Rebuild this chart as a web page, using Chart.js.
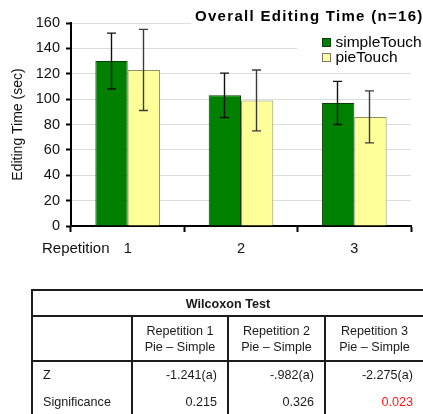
<!DOCTYPE html>
<html>
<head>
<meta charset="utf-8">
<script src="https://cdn.jsdelivr.net/npm/chart.js@4.4.1/dist/chart.umd.min.js"></script>
<style>
  html, body { margin: 0; padding: 0; background: #fff; }
  body { width: 423px; height: 414px; overflow: hidden; position: relative; font-family: 'Liberation Sans', Arial, sans-serif; }
  #chartBox { position: absolute; left: 0; top: 0; width: 423px; height: 262px; }
  #stats { position: absolute; left: 0; top: 0; width: 423px; height: 414px; pointer-events: none; }
  .ln { position: absolute; background: #1c1c1c; }
  .cell { position: absolute; font-size: 12.6px; color: #1a1a1a; line-height: 16px; white-space: nowrap; }
</style>
</head>
<body>
<div id="chartBox"><canvas id="c" width="423" height="262"></canvas></div>
<div id="stats"></div>
<script>
// Mean editing time (sec) per repetition, with standard deviations
const repetitions = ['1', '2', '3'];
const simpleTouchMean = [130, 103, 97];
const pieTouchMean = [123, 99, 86];
const simpleTouchSD = [22, 17.5, 17];
const pieTouchSD = [32, 24, 20.5];
const yTicks = [0, 20, 40, 60, 80, 100, 120, 140, 160];

// Wilcoxon signed-rank test, pieTouch vs simpleTouch
const testTitle = 'Wilcoxon Test';
const comparisonHeads = ['Repetition 1', 'Repetition 2', 'Repetition 3'];
const comparisonSub = 'Pie \u2013 Simple';
const rowLabels = ['Z', 'Significance'];
const zValues = ['-1.241(a)', '-.982(a)', '-2.275(a)'];
const sigValues = ['0.215', '0.326', '0.023'];

const FONT = "'Liberation Sans', Arial, sans-serif";

// Error whiskers (mean ± SD) drawn on top of every bar
const errorBars = {
  id: 'errorBars',
  afterDatasetsDraw(chart) {
    const ctx = chart.ctx;
    const y = chart.scales.y;
    chart.data.datasets.forEach((ds, di) => {
      const meta = chart.getDatasetMeta(di);
      meta.data.forEach((bar, i) => {
        const m = ds.data[i], sd = ds.sd[i];
        const top = y.getPixelForValue(m + sd);
        const bot = y.getPixelForValue(m - sd);
        const x = Math.round(bar.x) - 0.5;
        ctx.save();
        ctx.strokeStyle = ds.whiskerColor;
        ctx.lineWidth = 1.4;
        ctx.beginPath();
        ctx.moveTo(x, top); ctx.lineTo(x, bot);
        ctx.moveTo(x - 4.5, top); ctx.lineTo(x + 4.5, top);
        ctx.moveTo(x - 4.5, bot); ctx.lineTo(x + 4.5, bot);
        ctx.stroke();
        ctx.restore();
      });
    });
  }
};

// Title, legend box and the "Repetition" axis caption
const decorations = {
  id: 'decorations',
  afterDraw(chart) {
    const ctx = chart.ctx;
    ctx.save();
    // title with its own white backing
    ctx.font = 'bold 15px ' + FONT;
    ctx.letterSpacing = '1.3px';
    ctx.textBaseline = 'middle';
    ctx.textAlign = 'left';
    const title = 'Overall Editing Time (n=16)';
    const tw = ctx.measureText(title).width;
    ctx.fillStyle = '#fff';
    ctx.fillRect(191, 8, tw + 10, 20);
    ctx.fillStyle = '#000';
    ctx.fillText(title, 195, 17);
    ctx.letterSpacing = '0px';

    // legend
    ctx.fillStyle = '#fff';
    ctx.fillRect(297, 31, 126, 35);
    ctx.font = '15.5px ' + FONT;
    chart.data.datasets.forEach((ds, i) => {
      const yy = 38 + i * 15;
      ctx.fillStyle = ds.backgroundColor;
      ctx.fillRect(322, yy, 9, 9);
      ctx.strokeStyle = ds.legendEdge;
      ctx.lineWidth = 1;
      ctx.strokeRect(322.5, yy + 0.5, 8, 8);
      ctx.fillStyle = '#000';
      ctx.fillText(ds.label, 335.5, yy + 5);
    });

    // x axis caption
    ctx.font = '15px ' + FONT;
    ctx.fillStyle = '#111';
    ctx.fillText('Repetition', 42, 249);
    ctx.restore();
  }
};

new Chart(document.getElementById('c'), {
  type: 'bar',
  data: {
    labels: repetitions,
    datasets: [
      {
        label: 'simpleTouch',
        data: simpleTouchMean,
        sd: simpleTouchSD,
        backgroundColor: '#008000',
        borderColor: '#0a3d0a',
        legendEdge: '#0a3d0a',
        whiskerColor: '#111',
        borderWidth: 1,
        borderSkipped: 'bottom',
        categoryPercentage: 0.57,
        barPercentage: 1.0
      },
      {
        label: 'pieTouch',
        data: pieTouchMean,
        sd: pieTouchSD,
        backgroundColor: '#ffff99',
        borderColor: '#8f8f6a',
        legendEdge: '#777',
        whiskerColor: '#3a3a3a',
        borderWidth: 1,
        borderSkipped: 'bottom',
        categoryPercentage: 0.57,
        barPercentage: 1.0
      }
    ]
  },
  options: {
    responsive: false,
    devicePixelRatio: 1,
    animation: false,
    events: [],
    layout: { padding: { top: 23, right: 12, left: 0, bottom: 0 } },
    plugins: {
      legend: { display: false },
      title: { display: false },
      tooltip: { enabled: false }
    },
    scales: {
      x: {
        grid: { offset: true, drawOnChartArea: false, drawTicks: true, tickLength: 6, tickColor: '#000', tickWidth: 2 },
        border: { display: true, color: '#000', width: 2 },
        ticks: { color: '#111', font: { family: FONT, size: 14.5 }, padding: 8 },
        afterFit(s) { s.height = 36; }
      },
      y: {
        min: 0,
        max: 160,
        afterBuildTicks(s) { s.ticks = yTicks.map(v => ({ value: v })); },
        grid: { color: '#dcdcdc', lineWidth: 1, drawTicks: true, tickLength: 5, tickColor: '#000', tickWidth: 2 },
        border: { display: true, color: '#000', width: 2 },
        ticks: { color: '#111', font: { family: FONT, size: 14.5 }, padding: 6 },
        title: { display: true, text: 'Editing Time (sec)', color: '#111', font: { family: FONT, size: 14 }, padding: { top: 10, bottom: 0 } },
        afterFit(s) { s.width = 71; }
      }
    }
  },
  plugins: [errorBars, decorations]
});

// Statistics table beneath the chart
(function buildTable() {
  const box = document.getElementById('stats');
  const colX = [32, 132, 228, 325, 424];
  const rowY = [290, 316, 361, 388, 416];
  const add = (cls, css, text) => {
    const d = document.createElement('div');
    d.className = cls;
    Object.assign(d.style, css);
    if (text !== undefined) d.textContent = text;
    box.appendChild(d);
    return d;
  };
  // horizontal rules
  [rowY[0], rowY[1], rowY[2]].forEach(y => add('ln', { left: (colX[0] - 1) + 'px', top: (y - 1) + 'px', width: (colX[4] - colX[0] + 2) + 'px', height: '2px' }));
  // outer left edge
  add('ln', { left: (colX[0] - 1) + 'px', top: (rowY[0] - 1) + 'px', width: '2px', height: (rowY[4] - rowY[0]) + 'px' });
  // column dividers below the title row
  [colX[1], colX[2], colX[3]].forEach(x => add('ln', { left: (x - 1) + 'px', top: rowY[1] + 'px', width: '2px', height: (rowY[4] - rowY[1]) + 'px' }));

  add('cell', { left: colX[0] + 'px', width: (colX[4] - colX[0]) + 'px', top: (rowY[0] + 6) + 'px', textAlign: 'center', fontWeight: 'bold' }, testTitle);

  comparisonHeads.forEach((h, i) => {
    const d = add('cell', { left: colX[i + 1] + 'px', width: (colX[i + 2] - colX[i + 1]) + 'px', top: (rowY[1] + 7) + 'px', textAlign: 'center' });
    d.innerHTML = h + '<br>' + comparisonSub;
  });

  const rows = [zValues, sigValues];
  rowLabels.forEach((lab, r) => {
    const top = rowY[2 + r] + 6;
    add('cell', { left: (colX[0] + 11) + 'px', top: top + 'px' }, lab);
    rows[r].forEach((v, i) => {
      const css = { left: colX[i + 1] + 'px', width: (colX[i + 2] - colX[i + 1] - 11) + 'px', top: top + 'px', textAlign: 'right' };
      if (r === 1 && parseFloat(v) < 0.05) css.color = '#ff1a1a';
      add('cell', css, v);
    });
  });
})();
</script>
</body>
</html>
